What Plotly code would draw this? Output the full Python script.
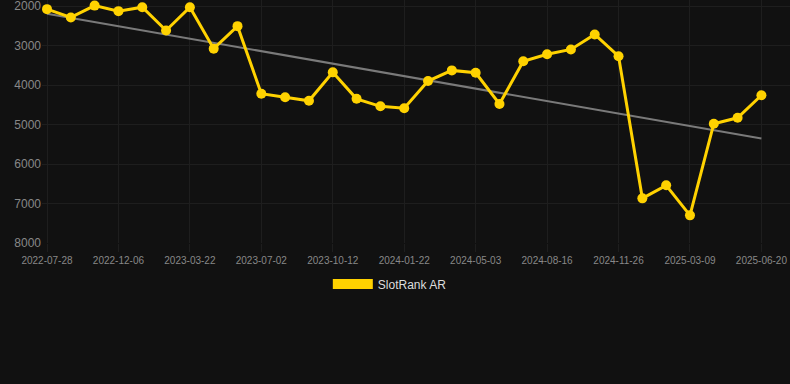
import numpy as np
import plotly.graph_objects as go

TICK_LABELS = ["2022-07-28", "2022-12-06", "2023-03-22", "2023-07-02", "2023-10-12",
               "2024-01-22", "2024-05-03", "2024-08-16", "2024-11-26", "2025-03-09",
               "2025-06-20"]
RANK = [2080, 2290, 1990, 2130, 2030, 2620, 2030, 3080, 2510, 4220,
        4310, 4400, 3680, 4350, 4540, 4590, 3900, 3630, 3690, 4480,
        3400, 3220, 3100, 2720, 3270, 6870, 6540, 7300, 4980, 4830, 4260]
SERIES_NAME = "SlotRank AR"

idx = np.arange(len(RANK))
slope, intercept = np.polyfit(idx, RANK, 1)
trend = slope * idx + intercept

GOLD = "#FFD200"
fig = go.Figure()
fig.add_trace(go.Scatter(x=idx, y=trend, mode="lines",
                         line=dict(color="#7a7a7a", width=2),
                         showlegend=False, hoverinfo="skip"))
fig.add_trace(go.Scatter(x=idx, y=RANK, mode="lines+markers",
                         line=dict(color=GOLD, width=3),
                         marker=dict(color=GOLD, size=10),
                         showlegend=False, cliponaxis=False))
fig.add_trace(go.Scatter(x=[None], y=[None], mode="lines", name=SERIES_NAME,
                         line=dict(color=GOLD, width=10), showlegend=True))

grid = "#1e1e1e"
fig.update_layout(
    width=790, height=384,
    margin=dict(l=42, r=0, t=0, b=141),
    paper_bgcolor="#111111", plot_bgcolor="#111111",
    font=dict(family="Liberation Sans, Arial, sans-serif", color="#888888"),
    showlegend=True,
    legend=dict(orientation="h", x=0.465, xanchor="center", y=-0.169, yanchor="middle",
                font=dict(size=12, color="#dddddd"), itemwidth=40,
                bgcolor="rgba(0,0,0,0)"),
    xaxis=dict(range=[-0.21, 31.2], tickmode="array",
               tickvals=list(idx[::3]), ticktext=TICK_LABELS,
               showgrid=True, gridcolor=grid, gridwidth=1,
               ticks="outside", ticklen=8, tickcolor=grid,
               tickfont=dict(size=10, color="#888888"),
               ticklabeloverflow="allow",
               zeroline=False, showline=False),
    yaxis=dict(range=[8000, 1848], tickmode="array",
               tickvals=[2000, 3000, 4000, 5000, 6000, 7000, 8000],
               showgrid=True, gridcolor=grid, gridwidth=1,
               tickfont=dict(size=12, color="#888888"),
               ticklabeloverflow="allow",
               zeroline=False, showline=False, ticks=""),
)
fig.write_html("out.html", config={"displayModeBar": False},
               post_script="document.body.style.margin='0';document.body.style.background='#111111';")
